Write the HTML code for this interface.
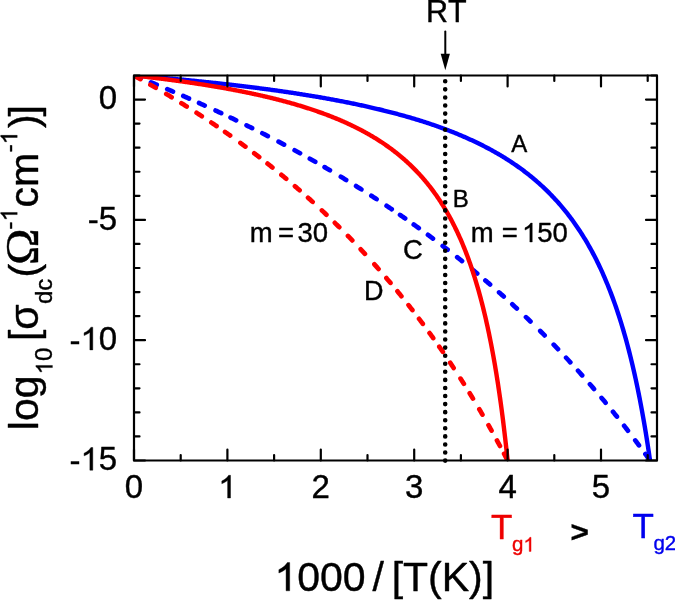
<!DOCTYPE html>
<html><head><meta charset="utf-8"><style>
html,body{margin:0;padding:0;background:#fff;}
body{width:675px;height:600px;overflow:hidden;}
svg{display:block;will-change:transform;}
text{font-family:"Liberation Sans",sans-serif;font-kerning:none;}
</style></head><body>
<svg width="675" height="600" viewBox="0 0 675 600">
<rect width="675" height="600" fill="#fff"/>
<defs><clipPath id="pc"><rect x="134.0" y="75.5" width="523.0" height="385.0"/></clipPath></defs>
<g fill="none" stroke-linejoin="round" clip-path="url(#pc)">
<path d="M134.84,75.83 L135.80,76.22 L136.76,76.60 L137.71,76.98 L138.67,77.37 L139.63,77.75 L140.59,78.14M151.00,82.37 L151.96,82.76 L152.91,83.16 L153.87,83.55 L154.82,83.94 L155.78,84.34 L156.73,84.74M167.27,89.15 L168.22,89.55 L169.17,89.95 L170.12,90.36 L171.07,90.76 L172.02,91.17 L172.97,91.57M183.28,96.02 L184.22,96.44 L185.17,96.85 L186.12,97.26 L187.06,97.68 L188.01,98.10 L188.96,98.51M199.03,102.99 L199.97,103.42 L200.92,103.84 L201.86,104.27 L202.80,104.69 L203.74,105.12 L204.68,105.55M215.56,110.54 L216.50,110.97 L217.43,111.41 L218.37,111.85 L219.31,112.28 L220.24,112.72 L221.18,113.16M230.54,117.59 L231.47,118.03 L232.40,118.48 L233.33,118.93 L234.27,119.38 L235.20,119.82 L236.13,120.27M246.55,125.36 L247.48,125.82 L248.41,126.28 L249.33,126.74 L250.26,127.20 L251.18,127.66 L252.11,128.12M262.31,133.26 L263.23,133.73 L264.15,134.20 L265.07,134.67 L265.99,135.14 L266.91,135.61 L267.83,136.08M278.58,141.69 L279.50,142.17 L280.41,142.65 L281.32,143.13 L282.24,143.62 L283.15,144.10 L284.06,144.59M294.60,150.26 L295.51,150.76 L296.41,151.25 L297.32,151.75 L298.23,152.25 L299.13,152.74 L300.04,153.24M309.84,158.70 L310.74,159.21 L311.64,159.72 L312.54,160.23 L313.44,160.74 L314.34,161.25 L315.24,161.76M324.57,167.12 L325.46,167.64 L326.36,168.16 L327.25,168.68 L328.14,169.20 L329.03,169.73 L329.92,170.25M340.85,176.75 L341.74,177.28 L342.62,177.82 L343.50,178.35 L344.39,178.89 L345.27,179.42 L346.15,179.96M356.10,186.09 L356.98,186.64 L357.85,187.18 L358.73,187.73 L359.60,188.28 L360.48,188.83 L361.35,189.38M371.35,195.76 L372.22,196.32 L373.08,196.88 L373.95,197.44 L374.82,198.00 L375.68,198.57 L376.55,199.13M386.60,205.77 L387.46,206.35 L388.32,206.92 L389.17,207.50 L390.03,208.08 L390.89,208.65 L391.74,209.23M400.04,214.90 L400.89,215.49 L401.74,216.08 L402.59,216.66 L403.44,217.25 L404.29,217.85 L405.13,218.44M413.74,224.51 L414.58,225.11 L415.42,225.71 L416.26,226.32 L417.10,226.92 L417.94,227.52 L418.78,228.13M427.96,234.83 L428.79,235.44 L429.62,236.06 L430.45,236.68 L431.28,237.29 L432.11,237.91 L432.94,238.53M442.70,245.91 L443.52,246.54 L444.34,247.17 L445.16,247.80 L445.98,248.43 L446.80,249.06 L447.61,249.70M457.19,257.21 L457.99,257.85 L458.80,258.50 L459.61,259.14 L460.42,259.79 L461.22,260.43 L462.03,261.08M472.45,269.57 L473.24,270.23 L474.04,270.89 L474.83,271.55 L475.63,272.21 L476.42,272.88 L477.21,273.54M485.38,280.45 L486.17,281.12 L486.95,281.79 L487.73,282.46 L488.52,283.14 L489.30,283.81 L490.08,284.49M499.09,292.39 L499.86,293.07 L500.64,293.76 L501.41,294.45 L502.18,295.13 L502.95,295.82 L503.72,296.51M512.29,304.30 L513.05,305.00 L513.81,305.70 L514.57,306.40 L515.32,307.10 L516.08,307.81 L516.84,308.51M526.00,317.15 L526.75,317.87 L527.50,318.58 L528.24,319.30 L528.99,320.01 L529.73,320.73 L530.47,321.45M540.24,331.02 L540.97,331.75 L541.70,332.48 L542.43,333.21 L543.16,333.94 L543.89,334.67 L544.62,335.41M553.70,344.67 L554.41,345.41 L555.13,346.15 L555.85,346.90 L556.56,347.64 L557.28,348.39 L557.99,349.14M566.12,357.75 L566.83,358.50 L567.53,359.26 L568.23,360.02 L568.93,360.78 L569.64,361.54 L570.34,362.30M578.03,370.75 L578.72,371.51 L579.41,372.28 L580.10,373.05 L580.79,373.82 L581.48,374.60 L582.16,375.37M589.94,384.22 L590.62,385.00 L591.29,385.78 L591.97,386.57 L592.64,387.35 L593.32,388.13 L593.99,388.92M601.59,397.89 L602.26,398.69 L602.92,399.48 L603.58,400.27 L604.24,401.07 L604.90,401.86 L605.56,402.66M612.99,411.75 L613.64,412.56 L614.29,413.36 L614.93,414.17 L615.58,414.98 L616.22,415.78 L616.87,416.59M624.13,425.80 L624.76,426.61 L625.39,427.43 L626.03,428.25 L626.66,429.06 L627.29,429.88 L627.92,430.70M635.26,440.36 L635.88,441.18 L636.50,442.01 L637.12,442.84 L637.74,443.67 L638.36,444.50 L638.97,445.33M645.37,454.04 L645.97,454.87 L646.58,455.71 L647.18,456.55 L647.79,457.39 L648.39,458.23 L648.99,459.07" stroke="#0000ff" stroke-width="4.7" stroke-linecap="round"/>
<path d="M135.05,76.08 L135.96,76.58 L136.86,77.08 L137.76,77.58 L138.67,78.08 L139.57,78.58 L140.47,79.09M150.37,84.68 L151.26,85.20 L152.16,85.71 L153.05,86.23 L153.95,86.74 L154.84,87.26 L155.74,87.78M166.27,93.98 L167.16,94.51 L168.05,95.04 L168.93,95.57 L169.82,96.11 L170.70,96.64 L171.59,97.18M181.43,103.21 L182.31,103.76 L183.19,104.30 L184.06,104.85 L184.94,105.40 L185.81,105.95 L186.69,106.50M196.59,112.82 L197.46,113.38 L198.33,113.94 L199.19,114.51 L200.06,115.07 L200.92,115.64 L201.79,116.20M211.38,122.58 L212.24,123.16 L213.09,123.74 L213.95,124.32 L214.81,124.90 L215.66,125.48 L216.51,126.06M225.05,131.96 L225.90,132.56 L226.74,133.15 L227.59,133.74 L228.43,134.34 L229.27,134.94 L230.12,135.53M240.40,142.95 L241.24,143.56 L242.07,144.17 L242.90,144.78 L243.74,145.39 L244.57,146.01 L245.40,146.62M254.26,153.28 L255.09,153.91 L255.91,154.54 L256.73,155.16 L257.55,155.79 L258.37,156.42 L259.18,157.05M267.56,163.61 L268.37,164.25 L269.18,164.89 L269.99,165.54 L270.80,166.18 L271.60,166.83 L272.41,167.47M281.43,174.82 L282.22,175.47 L283.02,176.13 L283.81,176.79 L284.61,177.46 L285.40,178.12 L286.19,178.78M294.92,186.19 L295.70,186.87 L296.48,187.54 L297.26,188.22 L298.04,188.90 L298.82,189.57 L299.60,190.25M308.04,197.72 L308.80,198.41 L309.57,199.10 L310.34,199.80 L311.11,200.49 L311.87,201.18 L312.64,201.88M321.91,210.45 L322.66,211.16 L323.41,211.86 L324.16,212.57 L324.91,213.28 L325.66,214.00 L326.41,214.71M334.84,222.85 L335.58,223.57 L336.32,224.30 L337.05,225.02 L337.79,225.75 L338.52,226.48 L339.25,227.20M347.97,235.99 L348.69,236.73 L349.41,237.47 L350.13,238.21 L350.85,238.95 L351.56,239.70 L352.28,240.44M360.72,249.33 L361.42,250.09 L362.13,250.85 L362.83,251.60 L363.53,252.36 L364.23,253.12 L364.93,253.88M374.41,264.34 L375.10,265.11 L375.78,265.88 L376.47,266.66 L377.15,267.43 L377.83,268.21 L378.52,268.98M386.41,278.11 L387.08,278.90 L387.75,279.68 L388.42,280.47 L389.09,281.26 L389.76,282.05 L390.42,282.84M397.48,291.35 L398.14,292.15 L398.79,292.95 L399.44,293.76 L400.09,294.56 L400.74,295.36 L401.39,296.16M408.55,305.16 L409.19,305.97 L409.83,306.78 L410.46,307.60 L411.10,308.41 L411.73,309.23 L412.37,310.05M419.06,318.81 L419.68,319.63 L420.30,320.46 L420.92,321.29 L421.54,322.11 L422.16,322.94 L422.78,323.77M429.57,333.03 L430.18,333.87 L430.78,334.70 L431.39,335.54 L431.99,336.38 L432.59,337.22 L433.19,338.06M439.33,346.78 L439.92,347.62 L440.51,348.47 L441.10,349.32 L441.69,350.17 L442.27,351.02 L442.86,351.88M450.22,362.76 L450.79,363.62 L451.36,364.48 L451.93,365.35 L452.50,366.21 L453.07,367.07 L453.64,367.93M460.54,378.60 L461.10,379.48 L461.65,380.35 L462.21,381.22 L462.76,382.09 L463.31,382.97 L463.86,383.84M469.74,393.31 L470.28,394.19 L470.82,395.07 L471.36,395.96 L471.90,396.84 L472.43,397.72 L472.97,398.61M479.32,409.25 L479.84,410.14 L480.37,411.03 L480.89,411.92 L481.41,412.82 L481.93,413.71 L482.45,414.60M488.52,425.21 L489.03,426.11 L489.53,427.01 L490.04,427.91 L490.55,428.81 L491.05,429.72 L491.55,430.62M496.97,440.46 L497.46,441.37 L497.96,442.28 L498.45,443.19 L498.94,444.09 L499.43,445.00 L499.92,445.92M504.11,453.80 L504.59,454.72 L505.07,455.63 L505.55,456.55 L506.02,457.46 L506.50,458.38 L506.98,459.30" stroke="#ff0000" stroke-width="4.7" stroke-linecap="round"/>
<path d="M134.00,75.50 L135.03,75.58 L136.06,75.66 L137.10,75.75 L138.13,75.83 L139.16,75.91 L140.19,76.00 L141.22,76.08 L142.26,76.17 L143.29,76.25 L144.32,76.34 L145.35,76.42 L146.38,76.51 L147.42,76.59 L148.45,76.68 L149.48,76.77 L150.51,76.85 L151.54,76.94 L152.58,77.03 L153.61,77.12 L154.64,77.20 L155.67,77.29 L156.70,77.38 L157.74,77.47 L158.77,77.56 L159.80,77.65 L160.83,77.74 L161.87,77.83 L162.90,77.92 L163.93,78.01 L164.96,78.10 L165.99,78.20 L167.03,78.29 L168.06,78.38 L169.09,78.47 L170.12,78.57 L171.15,78.66 L172.19,78.75 L173.22,78.85 L174.25,78.94 L175.28,79.04 L176.31,79.13 L177.35,79.23 L178.38,79.33 L179.41,79.42 L180.44,79.52 L181.47,79.62 L182.51,79.71 L183.54,79.81 L184.57,79.91 L185.60,80.01 L186.63,80.11 L187.67,80.21 L188.70,80.31 L189.73,80.41 L190.76,80.51 L191.79,80.61 L192.83,80.71 L193.86,80.81 L194.89,80.92 L195.92,81.02 L196.95,81.12 L197.99,81.23 L199.02,81.33 L200.05,81.44 L201.08,81.54 L202.11,81.65 L203.15,81.75 L204.18,81.86 L205.21,81.96 L206.24,82.07 L207.28,82.18 L208.31,82.29 L209.34,82.40 L210.37,82.50 L211.40,82.61 L212.44,82.72 L213.47,82.83 L214.50,82.94 L215.53,83.05 L216.56,83.17 L217.60,83.28 L218.63,83.39 L219.66,83.50 L220.69,83.62 L221.72,83.73 L222.76,83.85 L223.79,83.96 L224.82,84.08 L225.85,84.19 L226.88,84.31 L227.92,84.43 L228.95,84.54 L229.98,84.66 L231.01,84.78 L232.04,84.90 L233.08,85.02 L234.11,85.14 L235.14,85.26 L236.17,85.38 L237.20,85.50 L238.24,85.62 L239.27,85.74 L240.30,85.87 L241.33,85.99 L242.36,86.12 L243.40,86.24 L244.43,86.37 L245.46,86.49 L246.49,86.62 L247.52,86.74 L248.56,86.87 L249.59,87.00 L250.62,87.13 L251.65,87.26 L252.69,87.39 L253.72,87.52 L254.75,87.65 L255.78,87.78 L256.81,87.91 L257.85,88.05 L258.88,88.18 L259.91,88.31 L260.94,88.45 L261.97,88.58 L263.01,88.72 L264.04,88.86 L265.07,88.99 L266.10,89.13 L267.13,89.27 L268.17,89.41 L269.20,89.55 L270.23,89.69 L271.26,89.83 L272.29,89.97 L273.33,90.11 L274.36,90.26 L275.39,90.40 L276.42,90.54 L277.45,90.69 L278.49,90.83 L279.52,90.98 L280.55,91.13 L281.58,91.28 L282.61,91.42 L283.65,91.57 L284.68,91.72 L285.71,91.87 L286.74,92.03 L287.77,92.18 L288.81,92.33 L289.84,92.48 L290.87,92.64 L291.90,92.79 L292.93,92.95 L293.97,93.11 L295.00,93.26 L296.03,93.42 L297.06,93.58 L298.10,93.74 L299.13,93.90 L300.16,94.06 L301.19,94.23 L302.22,94.39 L303.26,94.55 L304.29,94.72 L305.32,94.88 L306.35,95.05 L307.38,95.22 L308.42,95.38 L309.45,95.55 L310.48,95.72 L311.51,95.89 L312.54,96.07 L313.58,96.24 L314.61,96.41 L315.64,96.59 L316.67,96.76 L317.70,96.94 L318.74,97.11 L319.77,97.29 L320.80,97.47 L321.83,97.65 L322.86,97.83 L323.90,98.01 L324.93,98.20 L325.96,98.38 L326.99,98.57 L328.02,98.75 L329.06,98.94 L330.09,99.13 L331.12,99.31 L332.15,99.50 L333.18,99.69 L334.22,99.89 L335.25,100.08 L336.28,100.27 L337.31,100.47 L338.34,100.66 L339.38,100.86 L340.41,101.06 L341.44,101.26 L342.47,101.46 L343.50,101.66 L344.54,101.86 L345.57,102.07 L346.60,102.27 L347.63,102.48 L348.67,102.69 L349.70,102.90 L350.73,103.11 L351.76,103.32 L352.79,103.53 L353.83,103.74 L354.86,103.96 L355.89,104.17 L356.92,104.39 L357.95,104.61 L358.99,104.83 L360.02,105.05 L361.05,105.27 L362.08,105.50 L363.11,105.72 L364.15,105.95 L365.18,106.17 L366.21,106.40 L367.24,106.63 L368.27,106.87 L369.31,107.10 L370.34,107.33 L371.37,107.57 L372.40,107.81 L373.43,108.05 L374.47,108.29 L375.50,108.53 L376.53,108.77 L377.56,109.02 L378.59,109.26 L379.63,109.51 L380.66,109.76 L381.69,110.01 L382.72,110.26 L383.75,110.52 L384.79,110.77 L385.82,111.03 L386.85,111.29 L387.88,111.55 L388.91,111.81 L389.95,112.08 L390.98,112.34 L392.01,112.61 L393.04,112.88 L394.08,113.15 L395.11,113.42 L396.14,113.70 L397.17,113.97 L398.20,114.25 L399.24,114.53 L400.27,114.81 L401.30,115.09 L402.33,115.38 L403.36,115.67 L404.40,115.96 L405.43,116.25 L406.46,116.54 L407.49,116.84 L408.52,117.13 L409.56,117.43 L410.59,117.73 L411.62,118.04 L412.65,118.34 L413.68,118.65 L414.72,118.96 L415.75,119.27 L416.78,119.59 L417.81,119.90 L418.84,120.22 L419.88,120.54 L420.91,120.87 L421.94,121.19 L422.97,121.52 L424.00,121.85 L425.04,122.18 L426.07,122.52 L427.10,122.85 L428.13,123.19 L429.16,123.54 L430.20,123.88 L431.23,124.23 L432.26,124.58 L433.29,124.93 L434.32,125.29 L435.36,125.64 L436.39,126.00 L437.42,126.37 L438.45,126.73 L439.49,127.10 L440.52,127.47 L441.55,127.85 L442.58,128.22 L443.61,128.60 L444.65,128.99 L445.68,129.37 L446.71,129.76 L447.74,130.15 L448.77,130.55 L449.81,130.95 L450.84,131.35 L451.87,131.75 L452.90,132.16 L453.93,132.57 L454.97,132.99 L456.00,133.40 L457.03,133.82 L458.06,134.25 L459.09,134.68 L460.13,135.11 L461.16,135.54 L462.19,135.98 L463.22,136.42 L464.25,136.87 L465.29,137.32 L466.32,137.77 L467.35,138.23 L468.38,138.69 L469.41,139.16 L470.45,139.63 L471.48,140.10 L472.51,140.58 L473.54,141.06 L474.57,141.54 L475.61,142.03 L476.64,142.53 L477.67,143.03 L478.70,143.53 L479.73,144.04 L480.77,144.55 L481.80,145.06 L482.83,145.58 L483.86,146.11 L484.90,146.64 L485.93,147.18 L486.96,147.72 L487.99,148.26 L489.02,148.81 L490.06,149.37 L491.09,149.93 L492.12,150.50 L493.15,151.07 L494.18,151.64 L495.22,152.23 L496.25,152.81 L497.28,153.41 L498.31,154.01 L499.34,154.61 L500.38,155.22 L501.41,155.84 L502.44,156.46 L503.47,157.09 L504.50,157.73 L505.54,158.37 L506.57,159.02 L507.60,159.67 L508.63,160.33 L509.66,161.00 L510.70,161.68 L511.73,162.36 L512.76,163.05 L513.79,163.75 L514.82,164.45 L515.86,165.16 L516.89,165.88 L517.92,166.61 L518.95,167.34 L519.98,168.08 L521.02,168.83 L522.05,169.59 L523.08,170.36 L524.11,171.13 L525.14,171.92 L526.18,172.71 L527.21,173.51 L528.24,174.32 L529.27,175.14 L530.30,175.97 L531.34,176.81 L532.37,177.66 L533.40,178.51 L534.43,179.38 L535.47,180.26 L536.50,181.15 L537.53,182.05 L538.56,182.95 L539.59,183.87 L540.63,184.81 L541.66,185.75 L542.69,186.70 L543.72,187.67 L544.75,188.65 L545.79,189.64 L546.82,190.64 L547.85,191.66 L548.88,192.68 L549.91,193.72 L550.95,194.78 L551.98,195.85 L553.01,196.93 L554.04,198.03 L555.07,199.14 L556.11,200.26 L557.14,201.40 L558.17,202.56 L559.20,203.73 L560.23,204.92 L561.27,206.12 L562.30,207.34 L563.33,208.58 L564.36,209.83 L565.39,211.11 L566.43,212.40 L567.46,213.71 L568.49,215.03 L569.52,216.38 L570.55,217.75 L571.59,219.13 L572.62,220.54 L573.65,221.97 L574.68,223.42 L575.71,224.89 L576.75,226.39 L577.78,227.91 L578.81,229.45 L579.84,231.01 L580.88,232.60 L581.91,234.22 L582.94,235.86 L583.97,237.53 L585.00,239.22 L586.04,240.95 L587.07,242.70 L588.10,244.48 L589.13,246.29 L590.16,248.13 L591.20,250.00 L592.23,251.91 L593.26,253.85 L594.29,255.82 L595.32,257.83 L596.36,259.87 L597.39,261.95 L598.42,264.07 L599.45,266.23 L600.48,268.43 L601.52,270.67 L602.55,272.95 L603.58,275.27 L604.61,277.64 L605.64,280.06 L606.68,282.52 L607.71,285.03 L608.74,287.60 L609.77,290.21 L610.80,292.88 L611.84,295.60 L612.87,298.38 L613.90,301.22 L614.93,304.12 L615.96,307.08 L617.00,310.11 L618.03,313.20 L619.06,316.37 L620.09,319.60 L621.12,322.91 L622.16,326.29 L623.19,329.75 L624.22,333.30 L625.25,336.93 L626.29,340.64 L627.32,344.45 L628.35,348.35 L629.38,352.35 L630.41,356.46 L631.45,360.66 L632.48,364.98 L633.51,369.41 L634.54,373.96 L635.57,378.63 L636.61,383.44 L637.64,388.37 L638.67,393.45 L639.70,398.67 L640.73,404.04 L641.77,409.57 L642.80,415.27 L643.83,421.14 L644.86,427.20 L645.89,433.44 L646.93,439.88 L647.96,446.53 L648.99,453.40 L650.02,460.50" stroke="#0000ff" stroke-width="4.4"/>
<path d="M134.00,75.50 L134.75,75.58 L135.49,75.66 L136.24,75.75 L136.99,75.83 L137.74,75.91 L138.48,76.00 L139.23,76.08 L139.98,76.17 L140.72,76.25 L141.47,76.34 L142.22,76.42 L142.97,76.51 L143.71,76.59 L144.46,76.68 L145.21,76.77 L145.96,76.85 L146.70,76.94 L147.45,77.03 L148.20,77.12 L148.94,77.20 L149.69,77.29 L150.44,77.38 L151.19,77.47 L151.93,77.56 L152.68,77.65 L153.43,77.74 L154.17,77.83 L154.92,77.92 L155.67,78.01 L156.42,78.10 L157.16,78.20 L157.91,78.29 L158.66,78.38 L159.40,78.47 L160.15,78.57 L160.90,78.66 L161.65,78.75 L162.39,78.85 L163.14,78.94 L163.89,79.04 L164.64,79.13 L165.38,79.23 L166.13,79.33 L166.88,79.42 L167.62,79.52 L168.37,79.62 L169.12,79.71 L169.87,79.81 L170.61,79.91 L171.36,80.01 L172.11,80.11 L172.85,80.21 L173.60,80.31 L174.35,80.41 L175.10,80.51 L175.84,80.61 L176.59,80.71 L177.34,80.81 L178.08,80.92 L178.83,81.02 L179.58,81.12 L180.33,81.23 L181.07,81.33 L181.82,81.44 L182.57,81.54 L183.32,81.65 L184.06,81.75 L184.81,81.86 L185.56,81.96 L186.30,82.07 L187.05,82.18 L187.80,82.29 L188.55,82.40 L189.29,82.50 L190.04,82.61 L190.79,82.72 L191.53,82.83 L192.28,82.94 L193.03,83.05 L193.78,83.17 L194.52,83.28 L195.27,83.39 L196.02,83.50 L196.76,83.62 L197.51,83.73 L198.26,83.85 L199.01,83.96 L199.75,84.08 L200.50,84.19 L201.25,84.31 L202.00,84.43 L202.74,84.54 L203.49,84.66 L204.24,84.78 L204.98,84.90 L205.73,85.02 L206.48,85.14 L207.23,85.26 L207.97,85.38 L208.72,85.50 L209.47,85.62 L210.21,85.74 L210.96,85.87 L211.71,85.99 L212.46,86.12 L213.20,86.24 L213.95,86.37 L214.70,86.49 L215.44,86.62 L216.19,86.74 L216.94,86.87 L217.69,87.00 L218.43,87.13 L219.18,87.26 L219.93,87.39 L220.68,87.52 L221.42,87.65 L222.17,87.78 L222.92,87.91 L223.66,88.05 L224.41,88.18 L225.16,88.31 L225.91,88.45 L226.65,88.58 L227.40,88.72 L228.15,88.86 L228.89,88.99 L229.64,89.13 L230.39,89.27 L231.14,89.41 L231.88,89.55 L232.63,89.69 L233.38,89.83 L234.12,89.97 L234.87,90.11 L235.62,90.26 L236.37,90.40 L237.11,90.54 L237.86,90.69 L238.61,90.83 L239.36,90.98 L240.10,91.13 L240.85,91.28 L241.60,91.42 L242.34,91.57 L243.09,91.72 L243.84,91.87 L244.59,92.03 L245.33,92.18 L246.08,92.33 L246.83,92.48 L247.57,92.64 L248.32,92.79 L249.07,92.95 L249.82,93.11 L250.56,93.26 L251.31,93.42 L252.06,93.58 L252.80,93.74 L253.55,93.90 L254.30,94.06 L255.05,94.23 L255.79,94.39 L256.54,94.55 L257.29,94.72 L258.04,94.88 L258.78,95.05 L259.53,95.22 L260.28,95.38 L261.02,95.55 L261.77,95.72 L262.52,95.89 L263.27,96.07 L264.01,96.24 L264.76,96.41 L265.51,96.59 L266.25,96.76 L267.00,96.94 L267.75,97.11 L268.50,97.29 L269.24,97.47 L269.99,97.65 L270.74,97.83 L271.48,98.01 L272.23,98.20 L272.98,98.38 L273.73,98.57 L274.47,98.75 L275.22,98.94 L275.97,99.13 L276.72,99.31 L277.46,99.50 L278.21,99.69 L278.96,99.89 L279.70,100.08 L280.45,100.27 L281.20,100.47 L281.95,100.66 L282.69,100.86 L283.44,101.06 L284.19,101.26 L284.93,101.46 L285.68,101.66 L286.43,101.86 L287.18,102.07 L287.92,102.27 L288.67,102.48 L289.42,102.69 L290.16,102.90 L290.91,103.11 L291.66,103.32 L292.41,103.53 L293.15,103.74 L293.90,103.96 L294.65,104.17 L295.40,104.39 L296.14,104.61 L296.89,104.83 L297.64,105.05 L298.38,105.27 L299.13,105.50 L299.88,105.72 L300.63,105.95 L301.37,106.17 L302.12,106.40 L302.87,106.63 L303.61,106.87 L304.36,107.10 L305.11,107.33 L305.86,107.57 L306.60,107.81 L307.35,108.05 L308.10,108.29 L308.84,108.53 L309.59,108.77 L310.34,109.02 L311.09,109.26 L311.83,109.51 L312.58,109.76 L313.33,110.01 L314.08,110.26 L314.82,110.52 L315.57,110.77 L316.32,111.03 L317.06,111.29 L317.81,111.55 L318.56,111.81 L319.31,112.08 L320.05,112.34 L320.80,112.61 L321.55,112.88 L322.29,113.15 L323.04,113.42 L323.79,113.70 L324.54,113.97 L325.28,114.25 L326.03,114.53 L326.78,114.81 L327.52,115.09 L328.27,115.38 L329.02,115.67 L329.77,115.96 L330.51,116.25 L331.26,116.54 L332.01,116.84 L332.76,117.13 L333.50,117.43 L334.25,117.73 L335.00,118.04 L335.74,118.34 L336.49,118.65 L337.24,118.96 L337.99,119.27 L338.73,119.59 L339.48,119.90 L340.23,120.22 L340.97,120.54 L341.72,120.87 L342.47,121.19 L343.22,121.52 L343.96,121.85 L344.71,122.18 L345.46,122.52 L346.20,122.85 L346.95,123.19 L347.70,123.54 L348.45,123.88 L349.19,124.23 L349.94,124.58 L350.69,124.93 L351.44,125.29 L352.18,125.64 L352.93,126.00 L353.68,126.37 L354.42,126.73 L355.17,127.10 L355.92,127.47 L356.67,127.85 L357.41,128.22 L358.16,128.60 L358.91,128.99 L359.65,129.37 L360.40,129.76 L361.15,130.15 L361.90,130.55 L362.64,130.95 L363.39,131.35 L364.14,131.75 L364.88,132.16 L365.63,132.57 L366.38,132.99 L367.13,133.40 L367.87,133.82 L368.62,134.25 L369.37,134.68 L370.12,135.11 L370.86,135.54 L371.61,135.98 L372.36,136.42 L373.10,136.87 L373.85,137.32 L374.60,137.77 L375.35,138.23 L376.09,138.69 L376.84,139.16 L377.59,139.63 L378.33,140.10 L379.08,140.58 L379.83,141.06 L380.58,141.54 L381.32,142.03 L382.07,142.53 L382.82,143.03 L383.56,143.53 L384.31,144.04 L385.06,144.55 L385.81,145.06 L386.55,145.58 L387.30,146.11 L388.05,146.64 L388.80,147.18 L389.54,147.72 L390.29,148.26 L391.04,148.81 L391.78,149.37 L392.53,149.93 L393.28,150.50 L394.03,151.07 L394.77,151.64 L395.52,152.23 L396.27,152.81 L397.01,153.41 L397.76,154.01 L398.51,154.61 L399.26,155.22 L400.00,155.84 L400.75,156.46 L401.50,157.09 L402.24,157.73 L402.99,158.37 L403.74,159.02 L404.49,159.67 L405.23,160.33 L405.98,161.00 L406.73,161.68 L407.48,162.36 L408.22,163.05 L408.97,163.75 L409.72,164.45 L410.46,165.16 L411.21,165.88 L411.96,166.61 L412.71,167.34 L413.45,168.08 L414.20,168.83 L414.95,169.59 L415.69,170.36 L416.44,171.13 L417.19,171.92 L417.94,172.71 L418.68,173.51 L419.43,174.32 L420.18,175.14 L420.92,175.97 L421.67,176.81 L422.42,177.66 L423.17,178.51 L423.91,179.38 L424.66,180.26 L425.41,181.15 L426.16,182.05 L426.90,182.95 L427.65,183.87 L428.40,184.81 L429.14,185.75 L429.89,186.70 L430.64,187.67 L431.39,188.65 L432.13,189.64 L432.88,190.64 L433.63,191.66 L434.37,192.68 L435.12,193.72 L435.87,194.78 L436.62,195.85 L437.36,196.93 L438.11,198.03 L438.86,199.14 L439.60,200.26 L440.35,201.40 L441.10,202.56 L441.85,203.73 L442.59,204.92 L443.34,206.12 L444.09,207.34 L444.84,208.58 L445.58,209.83 L446.33,211.11 L447.08,212.40 L447.82,213.71 L448.57,215.03 L449.32,216.38 L450.07,217.75 L450.81,219.13 L451.56,220.54 L452.31,221.97 L453.05,223.42 L453.80,224.89 L454.55,226.39 L455.30,227.91 L456.04,229.45 L456.79,231.01 L457.54,232.60 L458.28,234.22 L459.03,235.86 L459.78,237.53 L460.53,239.22 L461.27,240.95 L462.02,242.70 L462.77,244.48 L463.52,246.29 L464.26,248.13 L465.01,250.00 L465.76,251.91 L466.50,253.85 L467.25,255.82 L468.00,257.83 L468.75,259.87 L469.49,261.95 L470.24,264.07 L470.99,266.23 L471.73,268.43 L472.48,270.67 L473.23,272.95 L473.98,275.27 L474.72,277.64 L475.47,280.06 L476.22,282.52 L476.96,285.03 L477.71,287.60 L478.46,290.21 L479.21,292.88 L479.95,295.60 L480.70,298.38 L481.45,301.22 L482.20,304.12 L482.94,307.08 L483.69,310.11 L484.44,313.20 L485.18,316.37 L485.93,319.60 L486.68,322.91 L487.43,326.29 L488.17,329.75 L488.92,333.30 L489.67,336.93 L490.41,340.64 L491.16,344.45 L491.91,348.35 L492.66,352.35 L493.40,356.46 L494.15,360.66 L494.90,364.98 L495.64,369.41 L496.39,373.96 L497.14,378.63 L497.89,383.44 L498.63,388.37 L499.38,393.45 L500.13,398.67 L500.88,404.04 L501.62,409.57 L502.37,415.27 L503.12,421.14 L503.86,427.20 L504.61,433.44 L505.36,439.88 L506.11,446.53 L506.85,453.40 L507.60,460.50" stroke="#ff0000" stroke-width="4.4"/>
</g>
<line x1="445.2" y1="81.3" x2="445.2" y2="461" stroke="#000" stroke-width="4.6" stroke-linecap="round" stroke-dasharray="0 8.07"/>
<g fill="none" stroke="#000" stroke-width="2.2" stroke-linecap="round" stroke-linejoin="round">
<rect x="134.0" y="75.5" width="523.0" height="385.0"/>
<path d="M134.00,460.5V449.5M134.00,75.5V86.5M180.70,460.5V455.0M180.70,75.5V81.0M227.40,460.5V449.5M227.40,75.5V86.5M274.10,460.5V455.0M274.10,75.5V81.0M320.80,460.5V449.5M320.80,75.5V86.5M367.50,460.5V455.0M367.50,75.5V81.0M414.20,460.5V449.5M414.20,75.5V86.5M460.90,460.5V455.0M460.90,75.5V81.0M507.60,460.5V449.5M507.60,75.5V86.5M554.30,460.5V455.0M554.30,75.5V81.0M601.00,460.5V449.5M601.00,75.5V86.5M647.70,460.5V455.0M647.70,75.5V81.0M134.0,75.50H139.5M657.0,75.50H651.5M134.0,99.56H145.0M657.0,99.56H646.0M134.0,123.62H139.5M657.0,123.62H651.5M134.0,147.69H139.5M657.0,147.69H651.5M134.0,171.75H139.5M657.0,171.75H651.5M134.0,195.81H139.5M657.0,195.81H651.5M134.0,219.88H145.0M657.0,219.88H646.0M134.0,243.94H139.5M657.0,243.94H651.5M134.0,268.00H139.5M657.0,268.00H651.5M134.0,292.06H139.5M657.0,292.06H651.5M134.0,316.12H139.5M657.0,316.12H651.5M134.0,340.19H145.0M657.0,340.19H646.0M134.0,364.25H139.5M657.0,364.25H651.5M134.0,388.31H139.5M657.0,388.31H651.5M134.0,412.38H139.5M657.0,412.38H651.5M134.0,436.44H139.5M657.0,436.44H651.5M134.0,460.50H145.0M657.0,460.50H646.0"/>
<path d="M445.3,31.5V55" stroke-width="2"/>
</g>
<path d="M440.7,53.8L449.9,53.8L445.3,70.3Z" fill="#000"/>
<g fill="#000" stroke="#000" stroke-width="0.4" stroke-linejoin="round">
<g transform="translate(0,109.26) scale(1,1.0)"><text x="98.85" y="0" font-size="33">0</text></g><g transform="translate(0,229.57) scale(1,1.0)"><text x="87.86" y="0" font-size="33"> 5</text><text x="87.86" y="1.7" font-size="33">-</text></g><g transform="translate(0,349.89) scale(1,1.0)"><text x="69.50" y="0" font-size="33">  0</text><text x="69.50" y="1.7" font-size="33">-</text><path transform="translate(80.49,0) scale(0.01611,-0.01542)" d="M763 0L583 0L583 1147Q518 1085 412.5 1023Q307 961 223 930L223 1104Q374 1175 487 1276Q600 1377 647 1472L763 1472Z" vector-effect="non-scaling-stroke"/></g><g transform="translate(0,470.2) scale(1,1.0)"><text x="69.50" y="0" font-size="33">  5</text><text x="69.50" y="1.7" font-size="33">-</text><path transform="translate(80.49,0) scale(0.01611,-0.01542)" d="M763 0L583 0L583 1147Q518 1085 412.5 1023Q307 961 223 930L223 1104Q374 1175 487 1276Q600 1377 647 1472L763 1472Z" vector-effect="non-scaling-stroke"/></g><g transform="translate(0,498.0) scale(1,1.0)"><text x="124.82" y="0" font-size="33">0</text></g><g transform="translate(0,498.0) scale(1,1.0)"><text x="218.22" y="0" font-size="33"> </text><path transform="translate(218.22,0) scale(0.01611,-0.01542)" d="M763 0L583 0L583 1147Q518 1085 412.5 1023Q307 961 223 930L223 1104Q374 1175 487 1276Q600 1377 647 1472L763 1472Z" vector-effect="non-scaling-stroke"/></g><g transform="translate(0,498.0) scale(1,1.0)"><text x="311.62" y="0" font-size="33">2</text></g><g transform="translate(0,498.0) scale(1,1.0)"><text x="405.02" y="0" font-size="33">3</text></g><g transform="translate(0,498.0) scale(1,1.0)"><text x="498.42" y="0" font-size="33">4</text></g><g transform="translate(0,498.0) scale(1,1.0)"><text x="591.82" y="0" font-size="33">5</text></g>
<g transform="translate(0,21.5) scale(1,1.0)"><text x="426.00" y="0" font-size="30.5">RT</text></g><g transform="translate(0,152.1) scale(1,1.0)"><text x="511.35" y="0" font-size="24">A</text></g><g transform="translate(0,207.3) scale(1,1.0)"><text x="452.70" y="0" font-size="24">B</text></g><g transform="translate(0,259.3) scale(1,1.0)"><text x="402.90" y="0" font-size="27.5">C</text></g><g transform="translate(0,300.3) scale(1,1.0)"><text x="363.90" y="0" font-size="27">D</text></g><g transform="translate(0,242) scale(1,1.0)"><text x="249.70" y="0" font-size="27.5">m</text></g><g transform="translate(0,242) scale(1,1.0)"><text x="277.90" y="0" font-size="27.5">=</text></g><g transform="translate(0,242) scale(1,1.0)"><text x="297.40" y="0" font-size="27.5">30</text></g><g transform="translate(0,242) scale(1,1.0)"><text x="470.70" y="0" font-size="27.5">m</text></g><g transform="translate(0,242) scale(1,1.0)"><text x="501.80" y="0" font-size="27.5">=</text></g><g transform="translate(0,242) scale(1,1.0)"><text x="522.00" y="0" font-size="27.5"> 50</text><path transform="translate(522.00,0) scale(0.01343,-0.01285)" d="M763 0L583 0L583 1147Q518 1085 412.5 1023Q307 961 223 930L223 1104Q374 1175 487 1276Q600 1377 647 1472L763 1472Z" vector-effect="non-scaling-stroke"/></g><g transform="translate(0,590.8) scale(1,1.0)"><text x="274.40" y="0" font-size="41"> 000</text><path transform="translate(274.40,0) scale(0.02002,-0.01916)" d="M763 0L583 0L583 1147Q518 1085 412.5 1023Q307 961 223 930L223 1104Q374 1175 487 1276Q600 1377 647 1472L763 1472Z" vector-effect="non-scaling-stroke"/></g><g transform="translate(0,590.8) scale(1,1.0)"><text x="372.60" y="0" font-size="41">/</text></g><g transform="translate(0,590.8) scale(1,1.0)"><text x="391.70" y="0" font-size="41">[T(K)]</text></g><g transform="translate(0,539.3) scale(1,1.0)" fill="#ee0000" stroke="#ee0000"><text x="490.90" y="0" font-size="35">T</text></g><g transform="translate(0,551.4) scale(1,1.0)" fill="#ee0000" stroke="#ee0000"><text x="512.00" y="0" font-size="20.5">g </text><path transform="translate(523.40,0) scale(0.01001,-0.00958)" d="M763 0L583 0L583 1147Q518 1085 412.5 1023Q307 961 223 930L223 1104Q374 1175 487 1276Q600 1377 647 1472L763 1472Z" vector-effect="non-scaling-stroke"/></g><text x="570.5" y="541.9" font-size="30" font-weight="bold" transform="translate(570.5,0) scale(1.05,1) translate(-570.5,0)">&gt;</text><g transform="translate(0,537.6) scale(1,1.0)" fill="#0000ee" stroke="#0000ee"><text x="632.40" y="0" font-size="35">T</text></g><g transform="translate(0,549.6) scale(1,1.0)" fill="#0000ee" stroke="#0000ee"><text x="653.40" y="0" font-size="20.5">g2</text></g>
<g transform="translate(37.5,430.2) rotate(-90)"><g transform="translate(0,0) scale(1,1.0)"><text x="0.00" y="0" font-size="41">log</text></g></g><g transform="translate(52.4,374.4) rotate(-90)"><g transform="translate(0,0) scale(1,1.0)"><text x="0.00" y="0" font-size="24"> 0</text><path transform="translate(0.00,0) scale(0.01172,-0.01121)" d="M763 0L583 0L583 1147Q518 1085 412.5 1023Q307 961 223 930L223 1104Q374 1175 487 1276Q600 1377 647 1472L763 1472Z" vector-effect="non-scaling-stroke"/></g></g><g transform="translate(37.5,340.9) rotate(-90)"><g transform="translate(0,0) scale(1,1.0)"><text x="0.00" y="0" font-size="41">[</text></g></g><g transform="translate(37.5,329.8) rotate(-90)"><g transform="translate(0,0) scale(1,1.0)"><text x="0.00" y="0" font-size="41">σ</text></g></g><g transform="translate(52.4,304.0) rotate(-90)"><g transform="translate(0,0) scale(1,1.0)"><text x="0.00" y="0" font-size="24">dc</text></g></g><g transform="translate(37.5,277.5) rotate(-90)"><g transform="translate(0,0) scale(1,1.0)"><text x="0.00" y="0" font-size="41">(</text></g></g><g transform="translate(38.0,265.0) rotate(-90) scale(1.06,1)"><text x="0" y="0" font-size="46.5" style="font-family:'Liberation Serif',serif">Ω</text></g><g transform="translate(17.2,229.4) rotate(-90)"><g transform="translate(0,0) scale(1,1.0)"><text x="0.00" y="0" font-size="24">- </text><path transform="translate(7.99,0) scale(0.01172,-0.01121)" d="M763 0L583 0L583 1147Q518 1085 412.5 1023Q307 961 223 930L223 1104Q374 1175 487 1276Q600 1377 647 1472L763 1472Z" vector-effect="non-scaling-stroke"/></g></g><g transform="translate(37.5,207.5) rotate(-90)"><g transform="translate(0,0) scale(1,1.0)"><text x="0.00" y="0" font-size="41">cm</text></g></g><g transform="translate(17.2,152.3) rotate(-90)"><g transform="translate(0,0) scale(1,1.0)"><text x="0.00" y="0" font-size="24">- </text><path transform="translate(7.99,0) scale(0.01172,-0.01121)" d="M763 0L583 0L583 1147Q518 1085 412.5 1023Q307 961 223 930L223 1104Q374 1175 487 1276Q600 1377 647 1472L763 1472Z" vector-effect="non-scaling-stroke"/></g></g><g transform="translate(37.5,128.1) rotate(-90)"><g transform="translate(0,0) scale(1,1.0)"><text x="0.00" y="0" font-size="41">)</text></g></g><g transform="translate(37.5,116.6) rotate(-90)"><g transform="translate(0,0) scale(1,1.0)"><text x="0.00" y="0" font-size="41">]</text></g></g>
</g>
</svg>
</body></html>
